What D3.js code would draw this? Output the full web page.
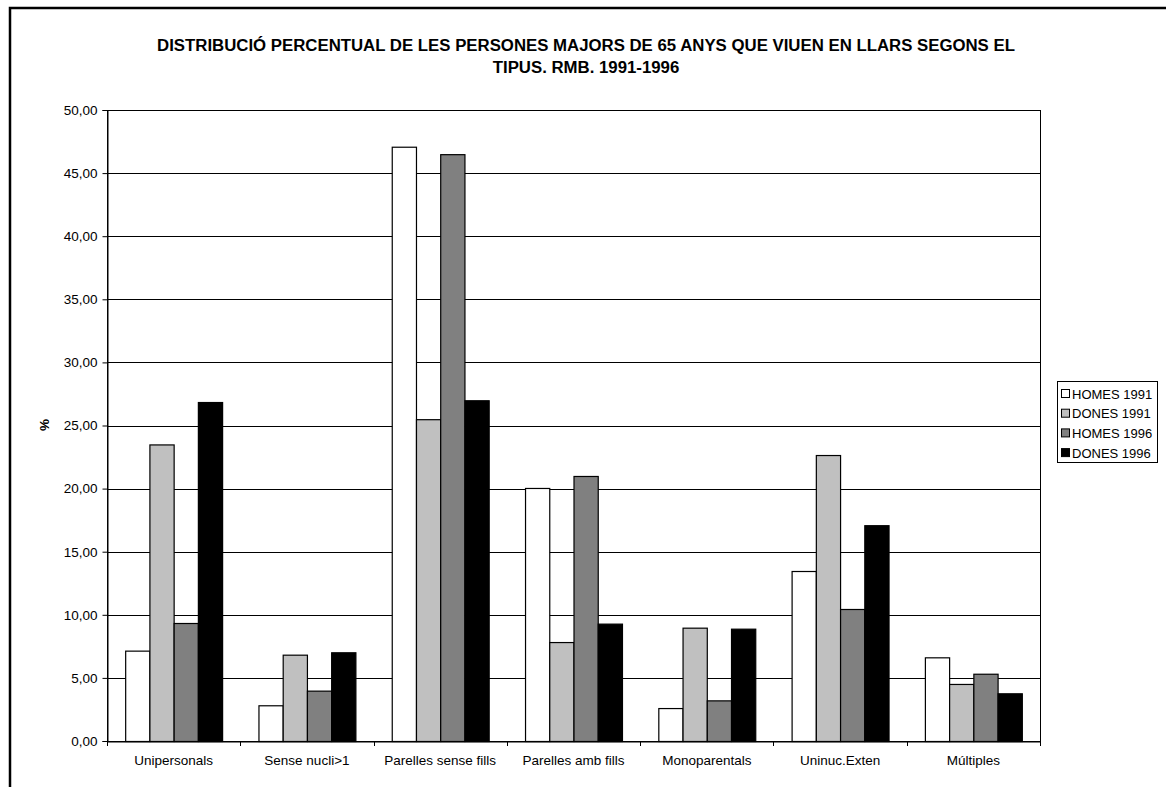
<!DOCTYPE html>
<html><head><meta charset="utf-8">
<script src="https://cdn.jsdelivr.net/npm/d3@7"></script>
<style>body{margin:0;background:#fff}svg{display:block;font-family:"Liberation Sans",Arial,sans-serif}</style>
</head><body><svg id="c" width="1166" height="787"></svg>
<script>
const categories = ["Unipersonals","Sense nucli>1","Parelles sense fills","Parelles amb fills","Monoparentals","Uninuc.Exten","Múltiples"];
const seriesNames = ["HOMES 1991","DONES 1991","HOMES 1996","DONES 1996"];
const homes1991 = [7.16, 2.83, 47.09, 20.05, 2.61, 13.47, 6.63];
const dones1991 = [23.5, 6.84, 25.5, 7.84, 8.98, 22.66, 4.52];
const homes1996 = [9.35, 3.99, 46.5, 21.0, 3.22, 10.46, 5.33];
const dones1996 = [26.86, 7.03, 27.0, 9.3, 8.9, 17.1, 3.78];
const yTicks = [0,5,10,15,20,25,30,35,40,45,50];
const title = ["DISTRIBUCIÓ PERCENTUAL DE LES PERSONES MAJORS DE 65 ANYS QUE VIUEN EN LLARS SEGONS EL","TIPUS. RMB. 1991-1996"];
const colors = ["#ffffff","#c0c0c0","#808080","#000000"];
const series = [homes1991, dones1991, homes1996, dones1996];

const svg = d3.select("#c");
svg.append("path").attr("d","M10,790 L10,8 L1170,8").attr("fill","none").attr("stroke","#000").attr("stroke-width",2.5);

const L=107, R=1040, T=110, B=741;
const x = d3.scaleBand().domain(categories).range([L,R]).paddingInner(0).paddingOuter(0);
const x1 = d3.scaleBand().domain(seriesNames).range([0,x.bandwidth()]).paddingOuter(0.75).paddingInner(0);
const y = d3.scaleLinear().domain([0,50]).range([B,T]);

svg.append("g").selectAll("line").data(yTicks.filter(d=>d>0)).join("line")
  .attr("x1",L).attr("x2",R).attr("y1",d=>Math.round(y(d))+0.5).attr("y2",d=>Math.round(y(d))+0.5)
  .attr("stroke","#000").attr("stroke-width",1);
svg.append("rect").attr("x",L+0.5).attr("y",T+0.5).attr("width",R-L).attr("height",B-T).attr("fill","none").attr("stroke","#000");

const g = svg.append("g");
categories.forEach((c,i)=>{
  series.forEach((s,j)=>{
    g.append("rect")
      .attr("x", x(c)+x1(seriesNames[j])+0.5)
      .attr("y", y(s[i])+0.5)
      .attr("width", x1.bandwidth())
      .attr("height", B - y(s[i]))
      .attr("fill", colors[j]).attr("stroke","#000").attr("stroke-width",1.2);
  });
});

const ya = d3.axisLeft(y).tickValues(yTicks).tickSize(5).tickPadding(5)
  .tickFormat(d=>d3.format(".2f")(d).replace(".",","));
svg.append("g").attr("transform",`translate(${L+0.5},0)`).call(ya)
  .call(g=>{g.select(".domain").attr("stroke","#000");g.selectAll("text").attr("font-size",13.5).attr("fill","#000").attr("font-family","Liberation Sans, Arial");});

const xa = d3.axisBottom(x).tickSize(0).tickPadding(14);
const xg = svg.append("g").attr("transform",`translate(0,${B+0.5})`).call(xa);
xg.select(".domain").attr("stroke","#000");
xg.selectAll("text").attr("font-size",13.5).attr("fill","#000").attr("font-family","Liberation Sans, Arial");
svg.append("g").selectAll("line").data(categories.concat([null])).join("line")
  .attr("x1",(d,i)=>Math.round(L+i*x.bandwidth())+0.5).attr("x2",(d,i)=>Math.round(L+i*x.bandwidth())+0.5)
  .attr("y1",B).attr("y2",B+5).attr("stroke","#000");

svg.append("text").attr("transform","translate(49,425) rotate(-90)").attr("text-anchor","middle")
  .attr("font-size",13.5).attr("font-weight","bold").text("%");

svg.append("g").selectAll("text").data(title).join("text")
  .attr("x",586).attr("y",(d,i)=>51+i*22).attr("text-anchor","middle")
  .attr("font-size",16.8).attr("font-weight","bold").text(d=>d);

const lg = svg.append("g").attr("transform","translate(1057,381)");
lg.append("rect").attr("x",0.5).attr("y",0.5).attr("width",100).attr("height",81).attr("fill","#fff").attr("stroke","#000");
seriesNames.forEach((n,i)=>{
  lg.append("rect").attr("x",4.5).attr("y",8.5+i*19.7).attr("width",8).attr("height",8).attr("fill",colors[i]).attr("stroke","#000");
  lg.append("text").attr("x",15).attr("y",17.5+i*19.7).attr("font-size",13).text(n);
});
</script></body></html>
